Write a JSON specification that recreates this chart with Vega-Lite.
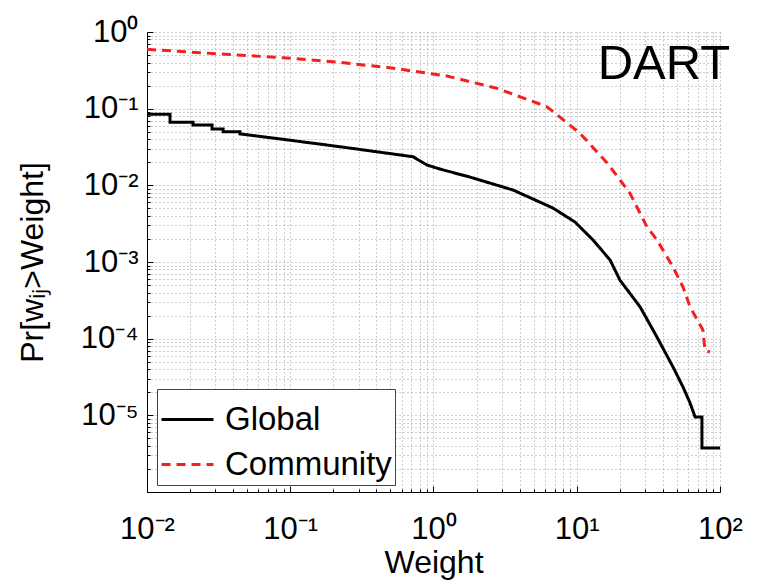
{
  "$schema": "https://vega.github.io/schema/vega-lite/v6.json",
  "width": 573,
  "height": 460,
  "autosize": {"type": "none"},
  "padding": {"left": 147, "top": 32, "right": 61, "bottom": 91},
  "background": "white",
  "config": {
    "view": {"stroke": null},
    "font": "Liberation Sans",
    "axis": {
      "labelFont": "Liberation Sans",
      "titleFont": "Liberation Sans",
      "labelColor": "black",
      "titleColor": "black",
      "labelFontSize": 31,
      "titleFontSize": 32,
      "titleFontWeight": "normal",
      "domainColor": "black",
      "domainWidth": 1,
      "tickColor": "black",
      "grid": true,
      "gridColor": "#9a9a9a",
      "gridDash": [1, 3],
      "gridWidth": 1
    }
  },
  "datasets": {
    "curves": [
      {"i": 1, "series": "Global", "w": 0.01, "p": 0.0845},
      {"i": 2, "series": "Global", "w": 0.01448, "p": 0.0845},
      {"i": 3, "series": "Global", "w": 0.01448, "p": 0.0664},
      {"i": 4, "series": "Global", "w": 0.02095, "p": 0.0664},
      {"i": 5, "series": "Global", "w": 0.02095, "p": 0.0612},
      {"i": 6, "series": "Global", "w": 0.02845, "p": 0.0612},
      {"i": 7, "series": "Global", "w": 0.02845, "p": 0.0543},
      {"i": 8, "series": "Global", "w": 0.034, "p": 0.0543},
      {"i": 9, "series": "Global", "w": 0.034, "p": 0.0501},
      {"i": 10, "series": "Global", "w": 0.0446, "p": 0.0501},
      {"i": 11, "series": "Global", "w": 0.0446, "p": 0.0468},
      {"i": 12, "series": "Global", "w": 0.0759, "p": 0.0414},
      {"i": 13, "series": "Global", "w": 0.222, "p": 0.0319},
      {"i": 14, "series": "Global", "w": 0.72, "p": 0.0236},
      {"i": 15, "series": "Global", "w": 0.901, "p": 0.0184},
      {"i": 16, "series": "Global", "w": 1.11, "p": 0.0163},
      {"i": 17, "series": "Global", "w": 1.8, "p": 0.0128},
      {"i": 18, "series": "Global", "w": 3.59, "p": 0.00869},
      {"i": 19, "series": "Global", "w": 6.82, "p": 0.00506},
      {"i": 20, "series": "Global", "w": 9.72, "p": 0.00332},
      {"i": 21, "series": "Global", "w": 12.98, "p": 0.00194},
      {"i": 22, "series": "Global", "w": 17.1, "p": 0.00106},
      {"i": 23, "series": "Global", "w": 20.0, "p": 0.000582},
      {"i": 24, "series": "Global", "w": 27.7, "p": 0.000259},
      {"i": 25, "series": "Global", "w": 36.3, "p": 0.000105},
      {"i": 26, "series": "Global", "w": 47.0, "p": 0.0000427},
      {"i": 27, "series": "Global", "w": 55.2, "p": 0.0000234},
      {"i": 28, "series": "Global", "w": 61.8, "p": 0.0000145},
      {"i": 29, "series": "Global", "w": 67.0, "p": 0.0000095},
      {"i": 30, "series": "Global", "w": 74.8, "p": 0.0000095},
      {"i": 31, "series": "Global", "w": 74.8, "p": 0.00000375},
      {"i": 32, "series": "Global", "w": 100, "p": 0.00000375},
      {"i": 1, "series": "Community", "w": 0.01, "p": 0.594},
      {"i": 2, "series": "Community", "w": 0.0234, "p": 0.537},
      {"i": 3, "series": "Community", "w": 0.0889, "p": 0.462},
      {"i": 4, "series": "Community", "w": 0.198, "p": 0.41},
      {"i": 5, "series": "Community", "w": 0.496, "p": 0.342},
      {"i": 6, "series": "Community", "w": 1.24, "p": 0.267},
      {"i": 7, "series": "Community", "w": 2.78, "p": 0.184},
      {"i": 8, "series": "Community", "w": 6.2, "p": 0.106},
      {"i": 9, "series": "Community", "w": 10.5, "p": 0.048},
      {"i": 10, "series": "Community", "w": 16.3, "p": 0.0196},
      {"i": 11, "series": "Community", "w": 23.5, "p": 0.0079},
      {"i": 12, "series": "Community", "w": 30.9, "p": 0.00288},
      {"i": 13, "series": "Community", "w": 36.3, "p": 0.00194},
      {"i": 14, "series": "Community", "w": 47.0, "p": 0.00086},
      {"i": 15, "series": "Community", "w": 55.2, "p": 0.000472},
      {"i": 16, "series": "Community", "w": 61.8, "p": 0.000259},
      {"i": 17, "series": "Community", "w": 76.0, "p": 0.00013},
      {"i": 18, "series": "Community", "w": 78.5, "p": 0.000071},
      {"i": 19, "series": "Community", "w": 85.1, "p": 0.000067}
    ],
    "annot": [
      {"w": 40.6, "p": 0.383, "label": "DART"}
    ]
  },
  "layer": [
    {
      "data": {"name": "curves"},
      "mark": {"type": "line", "strokeWidth": 3, "clip": true},
      "encoding": {
        "x": {
          "field": "w", "type": "quantitative",
          "scale": {"type": "log", "domain": [0.01, 100], "nice": false},
          "axis": {
            "title": "Weight",
            "titlePadding": 0,
            "values": [0.01,0.02,0.03,0.04,0.05,0.06,0.07,0.08,0.09,0.1,0.2,0.3,0.4,0.5,0.6,0.7,0.8,0.9,1,2,3,4,5,6,7,8,9,10,20,30,40,50,60,70,80,90,100],
            "labelExpr": "abs(log(datum.value)/LN10 - round(log(datum.value)/LN10)) < 0.001 ? '10' + ['⁻⁶','⁻⁵','⁻⁴','⁻³','⁻²','⁻¹','⁰','¹','²'][round(log(datum.value)/LN10)+6] : ''",
            "labelPadding": 28,
            "labelFlush": false,
            "labelOverlap": false,
            "tickSize": {"condition": {"test": "abs(log(datum.value)/LN10 - round(log(datum.value)/LN10)) < 0.001", "value": -6}, "value": -3}
          }
        },
        "y": {
          "field": "p", "type": "quantitative",
          "scale": {"type": "log", "domain": [0.000001, 1], "nice": false},
          "axis": {
            "title": "Pr[wᵢⱼ>Weight]",
            "titlePadding": 31,
            "values": [0.000001,0.000002,0.000003,0.000004,0.000005,0.000006,0.000007,0.000008,0.000009,0.00001,0.00002,0.00003,0.00004,0.00005,0.00006,0.00007,0.00008,0.00009,0.0001,0.0002,0.0003,0.0004,0.0005,0.0006,0.0007,0.0008,0.0009,0.001,0.002,0.003,0.004,0.005,0.006,0.007,0.008,0.009,0.01,0.02,0.03,0.04,0.05,0.06,0.07,0.08,0.09,0.1,0.2,0.3,0.4,0.5,0.6,0.7,0.8,0.9,1],
            "labelExpr": "abs(log(datum.value)/LN10 - round(log(datum.value)/LN10)) < 0.001 && datum.value > 0.000002 ? '10' + ['⁻⁶','⁻⁵','⁻⁴','⁻³','⁻²','⁻¹','⁰','¹','²'][round(log(datum.value)/LN10)+6] : ''",
            "labelPadding": 15,
            "labelFlush": false,
            "labelOverlap": false,
            "tickSize": {"condition": {"test": "abs(log(datum.value)/LN10 - round(log(datum.value)/LN10)) < 0.001", "value": -6}, "value": -3}
          }
        },
        "color": {
          "field": "series", "type": "nominal",
          "scale": {"domain": ["Global", "Community"], "range": ["black", "#f22020"]},
          "legend": {
            "title": null,
            "orient": "none",
            "legendX": 10,
            "legendY": 357,
            "symbolType": "stroke",
            "symbolSize": 2700,
            "symbolStrokeWidth": 3,
            "labelFont": "Liberation Sans",
            "labelFontSize": 33,
            "labelColor": "black",
            "labelLimit": 400,
            "strokeColor": "#444444",
            "fillColor": "white",
            "padding": 3,
            "rowPadding": -16,
            "labelOffset": 10
          }
        },
        "strokeDash": {
          "field": "series", "type": "nominal",
          "scale": {"domain": ["Global", "Community"], "range": [[1, 0], [9, 6]]},
          "legend": null
        },
        "order": {"field": "i", "type": "quantitative"}
      }
    },
    {
      "data": {"name": "annot"},
      "mark": {"type": "text", "fontSize": 49, "font": "Liberation Sans", "color": "black", "align": "center", "baseline": "middle"},
      "encoding": {
        "x": {"field": "w", "type": "quantitative"},
        "y": {"field": "p", "type": "quantitative"},
        "text": {"field": "label"}
      }
    }
  ]
}
